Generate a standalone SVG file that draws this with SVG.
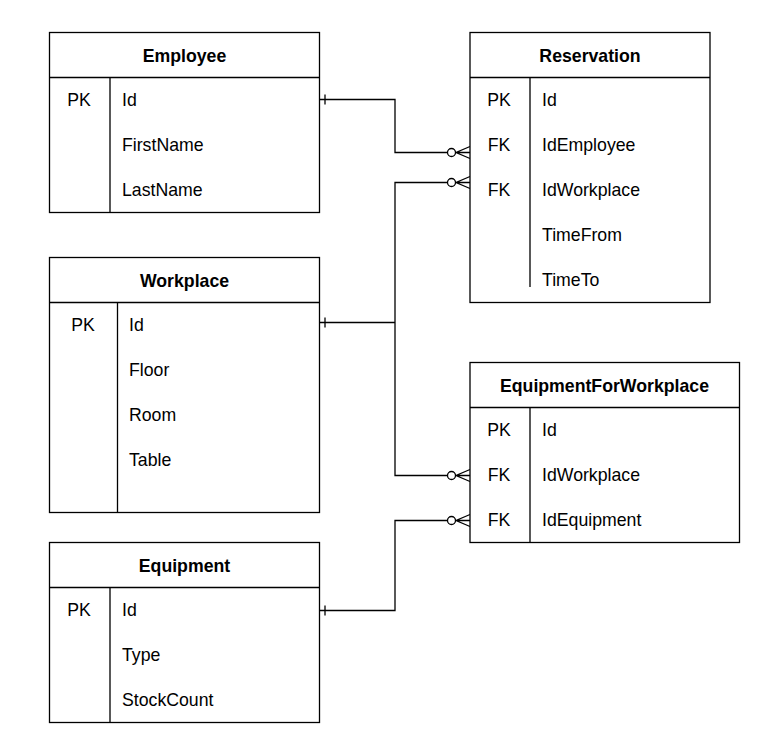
<svg xmlns="http://www.w3.org/2000/svg" width="780" height="756" viewBox="0 0 780 756">
<style>
.box{fill:#fff;stroke:#000;stroke-width:1.3}
.ln{fill:none;stroke:#000;stroke-width:1.3}
.t{font-family:"Liberation Sans",Arial,sans-serif;font-size:17.7px;fill:#000}
.h{font-family:"Liberation Sans",Arial,sans-serif;font-size:17.7px;font-weight:bold;fill:#000;text-anchor:middle}
.k{text-anchor:middle}
.c{fill:#fff;stroke:#000;stroke-width:1.3}
</style>
<defs>
<g id="many">
<path class="ln" d="M-18.5,0 H0 M0,-6 L-14,0 L0,6"/>
<circle class="c" cx="-18.5" cy="0" r="4"/>
</g>
<path id="one" class="ln" d="M5,-5 V5"/>
</defs>
<rect width="780" height="756" fill="#fff"/>
<g id="connectors">
<path class="ln" d="M320,99.5 H395 V152.5 H451.5"/>
<path class="ln" d="M320,322.5 H395 V182.5 H451.5 M395,322.5 V475.5 H451.5"/>
<path class="ln" d="M320,610.5 H395 V520.5 H451.5"/>
<use href="#one" x="320" y="99.5"/>
<use href="#one" x="320" y="322.5"/>
<use href="#one" x="320" y="610.5"/>
<use href="#many" x="470" y="152.5"/>
<use href="#many" x="470" y="182.5"/>
<use href="#many" x="470" y="475.5"/>
<use href="#many" x="470" y="520.5"/>
</g>
<g id="employee">
<rect class="box" x="49.5" y="32.5" width="270" height="180"/>
<path class="ln" d="M49.5,77.5 H319.5 M110,77.5 V212.5"/>
<text class="h" x="184.5" y="62">Employee</text>
<text class="t k" x="79" y="106">PK</text>
<text class="t" x="122" y="106">Id</text>
<text class="t" x="122" y="151">FirstName</text>
<text class="t" x="122" y="196">LastName</text>
</g>
<g id="workplace">
<rect class="box" x="49.5" y="257.5" width="270" height="255"/>
<path class="ln" d="M49.5,302.5 H319.5 M117.5,302.5 V512.5"/>
<text class="h" x="184.5" y="287">Workplace</text>
<text class="t k" x="83" y="331">PK</text>
<text class="t" x="129" y="331">Id</text>
<text class="t" x="129" y="376">Floor</text>
<text class="t" x="129" y="421">Room</text>
<text class="t" x="129" y="466">Table</text>
</g>
<g id="equipment">
<rect class="box" x="49.5" y="542.5" width="270" height="180"/>
<path class="ln" d="M49.5,587.5 H319.5 M110,587.5 V722.5"/>
<text class="h" x="184.5" y="572">Equipment</text>
<text class="t k" x="79" y="616">PK</text>
<text class="t" x="122" y="616">Id</text>
<text class="t" x="122" y="661">Type</text>
<text class="t" x="122" y="706">StockCount</text>
</g>
<g id="reservation">
<rect class="box" x="470" y="32.5" width="240" height="270"/>
<path class="ln" d="M470,77.5 H710 M530,77.5 V287"/>
<text class="h" x="590" y="62">Reservation</text>
<text class="t k" x="499" y="106">PK</text>
<text class="t k" x="499" y="151">FK</text>
<text class="t k" x="499" y="196">FK</text>
<text class="t" x="542" y="106">Id</text>
<text class="t" x="542" y="151">IdEmployee</text>
<text class="t" x="542" y="196">IdWorkplace</text>
<text class="t" x="542" y="241">TimeFrom</text>
<text class="t" x="542" y="286">TimeTo</text>
</g>
<g id="equipmentforworkplace">
<rect class="box" x="470" y="362.5" width="269.5" height="180"/>
<path class="ln" d="M470,407.5 H739.5 M530,407.5 V542.5"/>
<text class="h" x="604.5" y="392">EquipmentForWorkplace</text>
<text class="t k" x="499" y="436">PK</text>
<text class="t k" x="499" y="481">FK</text>
<text class="t k" x="499" y="526">FK</text>
<text class="t" x="542" y="436">Id</text>
<text class="t" x="542" y="481">IdWorkplace</text>
<text class="t" x="542" y="526">IdEquipment</text>
</g>
</svg>
